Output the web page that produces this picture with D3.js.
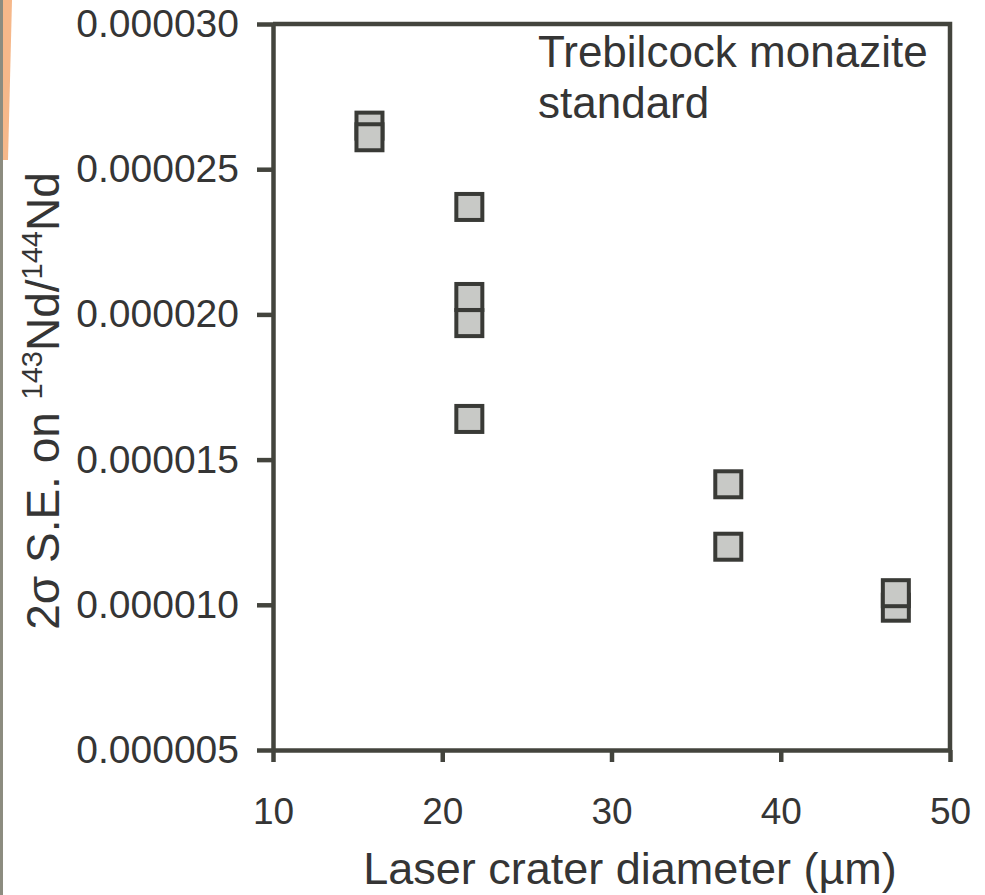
<!DOCTYPE html>
<html>
<head>
<meta charset="utf-8">
<script src="https://cdn.jsdelivr.net/npm/d3@7"></script>
<style>
  html, body { margin: 0; padding: 0; background: #ffffff; }
  svg { display: block; }
</style>
</head>
<body>
<svg id="chart" width="985" height="895"></svg>
<script>
// Crater diameter (µm) and 2σ S.E. on 143Nd/144Nd for each analysis
const craterDiameter = [15.7, 15.7, 21.6, 21.6, 21.6, 21.6, 36.9, 36.9, 46.8, 46.8];
const seValues = [26.5e-6, 26.1e-6, 23.7e-6, 20.6e-6, 19.7e-6, 16.4e-6, 14.15e-6, 12.0e-6, 9.9e-6, 10.4e-6];
const xTicks = [10, 20, 30, 40, 50];
const yTicks = [5e-6, 10e-6, 15e-6, 20e-6, 25e-6, 30e-6];
const noteLines = ["Trebilcock monazite", "standard"];

const svg = d3.select("#chart");
const font = "'Liberation Sans', Arial, Helvetica, sans-serif";
const ink = "#353535";
const axisInk = "#43443d";

const plot = { left: 273, right: 950, top: 24, bottom: 750 };
const x = d3.scaleLinear().domain([10, 50]).range([plot.left, plot.right]);
const y = d3.scaleLinear().domain([5e-6, 30e-6]).range([plot.bottom, plot.top]);

// scanned-page edge
svg.append("rect").attr("x", 0).attr("y", 0).attr("width", 3).attr("height", 895).attr("fill", "#8c8c80");
svg.append("path").attr("d", "M3,0 L12,0 L8,160 L3,160 Z").attr("fill", "#f6b88a");

// frame (top and right edges)
svg.append("path")
  .attr("d", `M${plot.left},${plot.top} L${plot.right},${plot.top} L${plot.right},${plot.bottom}`)
  .attr("fill", "none").attr("stroke", axisInk).attr("stroke-width", 4.5);

// y axis
const yAxis = svg.append("g")
  .attr("transform", `translate(${plot.left},0)`)
  .call(d3.axisLeft(y).tickValues(yTicks).tickFormat(d3.format(".6f")).tickSize(16).tickSizeOuter(0).tickPadding(18));
yAxis.select(".domain").attr("stroke", axisInk).attr("stroke-width", 4.5);
yAxis.selectAll(".tick line").attr("stroke", axisInk).attr("stroke-width", 4.5);
yAxis.selectAll(".tick text").attr("font-family", font).attr("font-size", 39).attr("fill", ink);

// x axis
const xAxis = svg.append("g")
  .attr("transform", `translate(0,${plot.bottom})`)
  .call(d3.axisBottom(x).tickValues(xTicks).tickFormat(d3.format("d")).tickSize(12).tickSizeOuter(0).tickPadding(36));
xAxis.select(".domain").attr("stroke", axisInk).attr("stroke-width", 4.5);
xAxis.selectAll(".tick line").attr("stroke", axisInk).attr("stroke-width", 4.5);
xAxis.selectAll(".tick text").attr("font-family", font).attr("font-size", 37).attr("fill", ink);

// markers
const size = 26;
svg.append("g").selectAll("rect")
  .data(d3.range(craterDiameter.length))
  .join("rect")
  .attr("x", i => x(craterDiameter[i]) - size / 2)
  .attr("y", i => y(seValues[i]) - size / 2)
  .attr("width", size).attr("height", size)
  .attr("fill", "#c8c9c6")
  .attr("stroke", "#393a36")
  .attr("stroke-width", 4);

// annotation
svg.append("text")
  .attr("font-family", font).attr("font-size", 44).attr("fill", ink)
  .selectAll("tspan").data(noteLines).join("tspan")
  .attr("x", 538).attr("y", (d, i) => 67 + i * 51)
  .text(d => d);

// axis titles
svg.append("text")
  .attr("x", 630).attr("y", 884)
  .attr("text-anchor", "middle")
  .attr("font-family", font).attr("font-size", 45).attr("fill", ink)
  .text("Laser crater diameter (µm)");

const yTitle = svg.append("text")
  .attr("transform", "translate(59,401) rotate(-90)")
  .attr("text-anchor", "middle")
  .attr("font-family", font).attr("font-size", 46).attr("fill", ink);
yTitle.append("tspan").text("2σ S.E. on ");
yTitle.append("tspan").attr("font-size", 29).attr("dy", -17).text("143");
yTitle.append("tspan").attr("dy", 17).text("Nd/");
yTitle.append("tspan").attr("font-size", 29).attr("dy", -17).text("144");
yTitle.append("tspan").attr("dy", 17).text("Nd");
</script>
</body>
</html>
